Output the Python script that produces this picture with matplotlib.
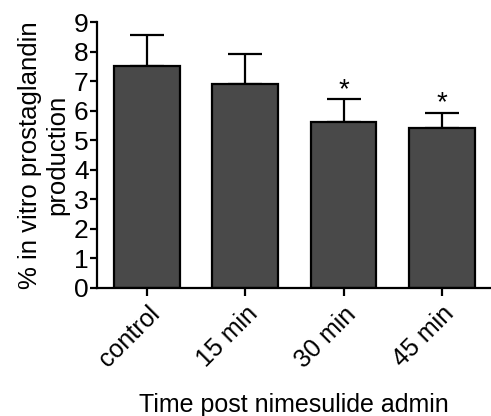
import matplotlib
matplotlib.use("Agg")
import matplotlib.pyplot as plt

categories = ["control", "15 min", "30 min", "45 min"]
values = [7.5, 6.9, 5.6, 5.4]
errors = [1.07, 1.03, 0.78, 0.53]
significant = [False, False, True, True]

plt.rcParams['font.family'] = ['Liberation Sans', 'DejaVu Sans']

fig = plt.figure(figsize=(4.91, 4.16), dpi=100)
ax = fig.add_axes([0.1976, 0.3077, 0.80, 0.6394])

x = range(len(categories))
ax.bar(x, values, width=0.67, color="#494949", edgecolor="black", linewidth=1.6, zorder=2)
ax.errorbar(x, values, yerr=[[0]*len(errors), errors], fmt="none", ecolor="black",
            elinewidth=1.6, capsize=12.5, capthick=1.6, zorder=1)
for i, (v, e, s) in enumerate(zip(values, errors, significant)):
    if s:
        ax.text(i, v + e - 0.12, "*", ha="center", va="bottom", fontsize=20)

ax.set_xlim(-0.51, 3.49)
ax.set_ylim(0, 9)
ax.set_yticks(range(10))
ax.set_xticks(list(x))
ax.set_xticklabels(categories, rotation=45, ha="right", rotation_mode="anchor", fontsize=18)
ax.tick_params(axis="y", labelsize=19, width=1.6, length=5, pad=1)
ax.tick_params(axis="x", width=1.6, length=6, pad=4)
for side in ["top", "right"]:
    ax.spines[side].set_visible(False)
for side in ["left", "bottom"]:
    ax.spines[side].set_linewidth(1.6)

ax.set_ylabel("% in vitro prostaglandin\nproduction", fontsize=18.5, labelpad=3, linespacing=1.2)
ax.set_xlabel("Time post nimesulide admin", fontsize=18, labelpad=15)

fig.savefig("out.png", dpi=100)
